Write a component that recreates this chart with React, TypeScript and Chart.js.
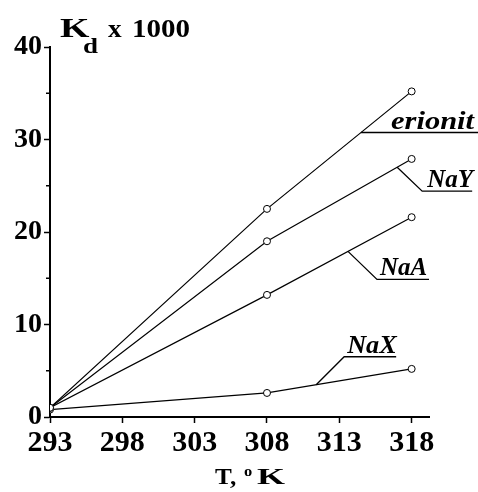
import React, { useEffect, useRef } from 'react';
import { Chart, registerables } from 'chart.js';

Chart.register(...registerables);

const temperatures = [293, 308, 318];
const erionitValues = [1.0, 22.5, 35.2];
const nayValues = [1.0, 19.0, 27.9];
const naaValues = [1.0, 13.2, 21.6];
const naxValues = [0.8, 2.6, 5.2];
const seriesNames = ['erionit', 'NaY', 'NaA', 'NaX'];
const xTickValues = [293, 298, 303, 308, 313, 318];
const yTickValues = [0, 10, 20, 30, 40];
const yMinorTickValues = [5, 15, 25, 35];
const labelAnchorTemps = [314.5, 317.0, 313.6, 311.4];

const seriesValues = [erionitValues, nayValues, naaValues, naxValues];

const labelStyles = [
  { dx: 0, dy: 0, len: 120, textDx: 30, size: 25, scaleX: 1.22 },
  { dx: 25, dy: 24, len: 50, textDx: 5, size: 25, scaleX: 1 },
  { dx: 29, dy: 28, len: 52, textDx: 3, size: 25, scaleX: 1 },
  { dx: 28, dy: -28, len: 52, textDx: 3, size: 25, scaleX: 1.05 },
];

const SERIF = '"Liberation Serif", "DejaVu Serif", serif';

function interp(xs: number[], ys: number[], t: number) {
  for (let i = 0; i < xs.length - 1; i++) {
    if (t >= xs[i] && t <= xs[i + 1]) {
      const f = (t - xs[i]) / (xs[i + 1] - xs[i]);
      return ys[i] + f * (ys[i + 1] - ys[i]);
    }
  }
  return ys[ys.length - 1];
}

function drawText(ctx: CanvasRenderingContext2D, text: string, x: number, y: number, font: string, scaleX = 1) {
  ctx.save();
  ctx.font = font;
  ctx.translate(x, y);
  ctx.scale(scaleX, 1);
  ctx.fillText(text, 0, 0);
  const w = ctx.measureText(text).width * scaleX;
  ctx.restore();
  return w;
}

const annotationPlugin = {
  id: 'annotations',
  afterDraw(chart: any) {
    const ctx = chart.ctx as CanvasRenderingContext2D;
    const xs = chart.scales.x;
    const ys = chart.scales.y;
    const area = chart.chartArea;
    ctx.save();
    ctx.strokeStyle = '#000';
    ctx.fillStyle = '#000';
    ctx.textAlign = 'left';
    ctx.textBaseline = 'alphabetic';
    // minor y ticks
    ctx.lineWidth = 1.5;
    yMinorTickValues.forEach((v) => {
      const py = ys.getPixelForValue(v);
      ctx.beginPath();
      ctx.moveTo(area.left - 4, py);
      ctx.lineTo(area.left, py);
      ctx.stroke();
    });
    // series labels with leaders
    ctx.lineWidth = 1.3;
    seriesNames.forEach((name, i) => {
      const t = labelAnchorTemps[i];
      const st = labelStyles[i];
      const ax = xs.getPixelForValue(t);
      const ay = ys.getPixelForValue(interp(temperatures, seriesValues[i], t));
      const ex = ax + st.dx;
      const ey = ay + st.dy;
      ctx.beginPath();
      ctx.moveTo(ax, ay);
      ctx.lineTo(ex, ey);
      ctx.lineTo(ex + st.len, ey);
      ctx.stroke();
      drawText(ctx, name, ex + st.textDx, ey - 4, `italic bold ${st.size}px ${SERIF}`, st.scaleX);
    });
    // y title: K_d x 1000
    const tx = area.left + 10;
    const tyBase = 37;
    drawText(ctx, 'K', tx, tyBase, `bold 28px ${SERIF}`, 1.35);
    drawText(ctx, 'd', tx + 23, tyBase + 16, `bold 20px ${SERIF}`, 1.35);
    drawText(ctx, 'x', tx + 48, tyBase, `bold 26px ${SERIF}`, 1.05);
    drawText(ctx, '1000', tx + 72, tyBase, `bold 25px ${SERIF}`, 1.16);
    // x title: T, °K
    const cx = 215;
    const by = 484;
    drawText(ctx, 'T,', cx, by, `bold 24px ${SERIF}`, 1.05);
    drawText(ctx, 'o', cx + 29, by - 8, `bold 15px ${SERIF}`, 1.1);
    drawText(ctx, 'K', cx + 42, by, `bold 24px ${SERIF}`, 1.5);
    ctx.restore();
  },
};

export default function App() {
  const canvasRef = useRef<HTMLCanvasElement | null>(null);

  useEffect(() => {
    const canvas = canvasRef.current;
    if (!canvas) return;
    const makeDataset = (values: number[], label: string) => ({
      label,
      data: temperatures.map((t, i) => ({ x: t, y: values[i] })),
      borderColor: '#000',
      borderWidth: 1.2,
      pointRadius: 3.5,
      pointBackgroundColor: '#fff',
      pointBorderColor: '#000',
      pointBorderWidth: 1,
      tension: 0,
      fill: false,
    });
    const xTickFont = { family: SERIF, size: 30, weight: 'bold' as const };
    const yTickFont = { family: SERIF, size: 28, weight: 'bold' as const };
    const chart = new Chart(canvas, {
      type: 'line',
      data: {
        datasets: seriesValues.map((v, i) => makeDataset(v, seriesNames[i])),
      },
      options: {
        responsive: false,
        animation: false,
        layout: { padding: { top: 47, right: 49, left: 0, bottom: 0 } },
        plugins: { legend: { display: false }, tooltip: { enabled: false } },
        scales: {
          x: {
            type: 'linear',
            min: 293,
            max: 319.2,
            afterBuildTicks: (s: any) => {
              s.ticks = xTickValues.map((value) => ({ value }));
            },
            afterFit: (s: any) => {
              s.height = 75;
            },
            ticks: { font: xTickFont, color: '#000', padding: 2, maxRotation: 0, autoSkip: false },
            grid: { drawOnChartArea: false, drawTicks: true, tickLength: 6, color: '#000', tickWidth: 1.5 },
            border: { color: '#000', width: 2 },
          },
          y: {
            type: 'linear',
            min: 0,
            max: 40,
            afterBuildTicks: (s: any) => {
              s.ticks = yTickValues.map((value) => ({ value }));
            },
            afterFit: (s: any) => {
              s.width = 50;
            },
            ticks: { font: yTickFont, color: '#000', padding: 2, autoSkip: false },
            grid: { drawOnChartArea: false, drawTicks: true, tickLength: 6, color: '#000', tickWidth: 1.5 },
            border: { color: '#000', width: 2 },
          },
        },
      },
      plugins: [annotationPlugin],
    });
    return () => chart.destroy();
  }, []);

  return (
    <div style={{ position: 'absolute', left: 0, top: 0, width: 478, height: 492, background: '#fff' }}>
      <canvas ref={canvasRef} width={478} height={492} style={{ display: 'block' }} />
    </div>
  );
}
